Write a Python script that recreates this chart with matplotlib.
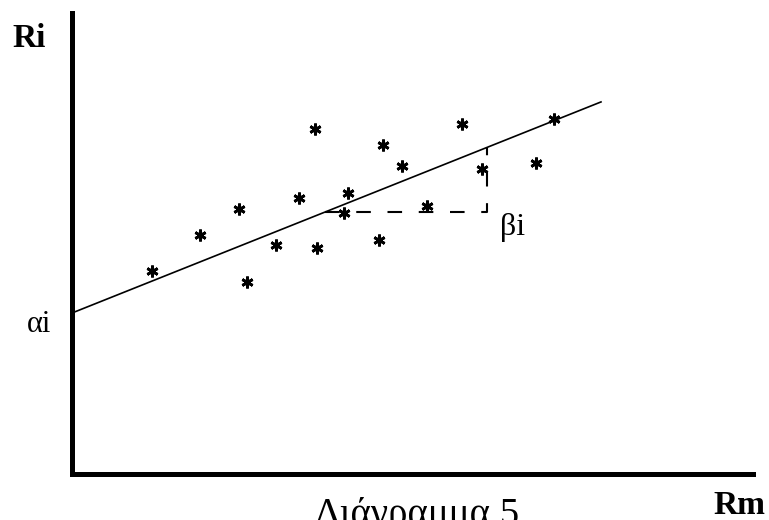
import matplotlib.pyplot as plt
import numpy as np

# scatter points (Rm, Ri)
rm = [1.60, 2.56, 3.34, 3.50, 4.08, 4.54, 4.86, 4.90, 5.44,
      5.52, 6.14, 6.22, 6.60, 7.10, 7.80, 8.20, 9.28, 9.64]
ri = [4.06, 4.78, 5.30, 3.84, 4.58, 5.52, 6.90, 4.52, 5.22,
      5.62, 4.68, 6.58, 6.16, 5.36, 7.00, 6.10, 6.22, 7.10]

# characteristic line Ri = alpha + beta * Rm
alpha = 3.22
beta = 0.399
line_x = [0.0, 10.58]

# slope triangle drawn on the line
tri_x0 = 5.06
tri_x1 = 8.30

serif = ["Liberation Serif", "DejaVu Serif"]

fig = plt.figure(figsize=(7.69, 5.20), dpi=100)
ax = fig.add_axes([72 / 769, 46 / 520, 681 / 769, 461 / 520])
ax.set_xlim(0, 13.62)
ax.set_ylim(0, 9.22)

for side in ["top", "right"]:
    ax.spines[side].set_visible(False)
for side in ["left", "bottom"]:
    ax.spines[side].set_linewidth(3.6)
    ax.spines[side].set_color("black")
ax.set_xticks([])
ax.set_yticks([])

# regression line
lx = np.array(line_x)
ax.plot(lx, alpha + beta * lx, color="black", linewidth=1.2)

# dashed slope triangle
y0 = alpha + beta * tri_x0
y1 = alpha + beta * tri_x1
ax.plot([tri_x0, tri_x1, tri_x1], [y0, y0, y1], color="black",
        linewidth=1.5, linestyle=(0, (7, 8)))

# scatter stars
ax.plot(rm, ri, linestyle="none", marker=(6, 2, 0), markersize=8.5,
        markeredgewidth=2.0, color="black")

# labels
ax.text(-1.2, 8.54, "Ri", fontsize=24, fontweight="bold", family=serif,
        ha="left", va="baseline", clip_on=False)
ax.text(12.82, -0.80, "Rm", fontsize=24, fontweight="bold", family=serif,
        ha="left", va="baseline", clip_on=False)
ax.text(-0.9, 2.84, "αi", fontsize=22, family=serif,
        ha="left", va="baseline", clip_on=False)
ax.text(8.56, 4.78, "βi", fontsize=23, family=serif,
        ha="left", va="baseline", clip_on=False)
ax.text(4.86, -1.02, "Διάγραμμα 5", fontsize=28, family=serif,
        ha="left", va="baseline", clip_on=False)

fig.savefig("out.png", dpi=100)
plt.close(fig)
